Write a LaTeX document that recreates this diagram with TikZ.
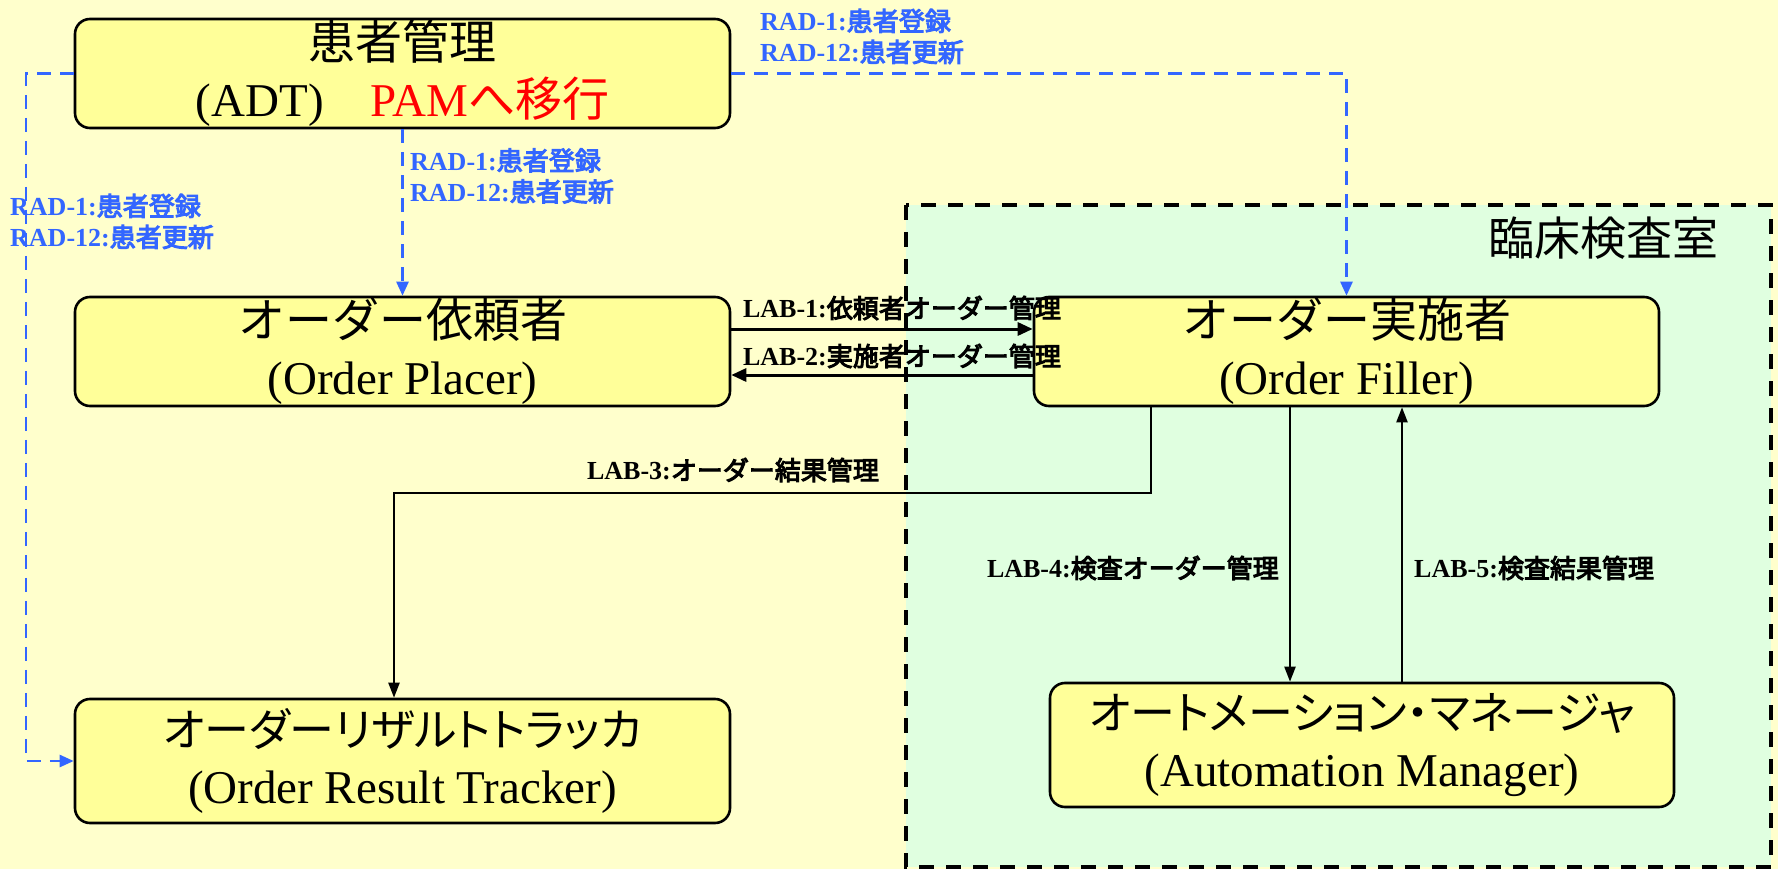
\documentclass[tikz,border=0pt]{standalone}
\usepackage{fontspec}
\setmainfont{Liberation Serif}
\newfontfamily\jp{Noto Sans CJK JP}
\newfontfamily\jpp{Noto Sans CJK JP}[RawFeature=+palt]
\newfontfamily\jpb{Noto Sans CJK JP}[FakeBold=4]
\usetikzlibrary{arrows.meta}
\definecolor{bg}{HTML}{FFFFCC}
\definecolor{boxfill}{HTML}{FFFF99}
\definecolor{labfill}{HTML}{E0FFE0}
\definecolor{radblue}{HTML}{3366FF}
\newcommand{\lbtext}[2]{\textbf{#1}{\jpb #2}}
\begin{document}
\begin{tikzpicture}[x=1pt,y=-1pt,
  box/.style={draw=black, line width=2.6pt, fill=boxfill, rounded corners=15pt,
    align=center, font=\fontsize{47}{57}\selectfont, inner sep=0pt},
  radline/.style={draw=radblue, line width=2.5pt, dash pattern=on 14pt off 9pt,
    -{Triangle[length=14pt,width=12pt]}},
  labarrow/.style={draw=black, line width=3pt, -{Triangle[length=15pt,width=13pt]}},
  labarrowthin/.style={draw=black, line width=2.2pt, -{Triangle[length=15pt,width=11pt]}},
  lbl/.style={inner sep=0pt, font=\fontsize{26}{31}\selectfont},
  radlbl/.style={lbl, text=radblue, align=left, anchor=west},
  region/.style={draw=black, line width=3.5pt, dash pattern=on 15pt off 12pt, fill=labfill}
]
\fill[bg] (0,0) rectangle (1778,869);
\useasboundingbox (0,0) rectangle (1778,869);

% lab region
\path[region] (906,205) rectangle (1771,867);
\node[inner sep=0pt, font=\jp\fontsize{46}{50}\selectfont] (labtitle) at (1603,238) {臨床検査室};

% actor boxes
\node[box, minimum width=655pt, minimum height=109pt] (adt) at (402.5,73.5)
  {{\jp 患者管理}\\(ADT)\quad{\color{red}PAM{\jp へ移行}}};
\node[box, minimum width=655pt, minimum height=109pt] (placer) at (402.5,351.5)
  {{\jp オーダー依頼者}\\(Order Placer)};
\node[box, minimum width=625pt, minimum height=109pt] (filler) at (1346.5,351.5)
  {{\jp オーダー実施者}\\(Order Filler)};
\node[box, minimum width=655pt, minimum height=124pt] (tracker) at (402.5,761)
  {{\jpp\fontsize{45}{57}\selectfont オーダーリザルトトラッカ}\\(Order Result Tracker)};
\node[box, minimum width=624pt, minimum height=124pt] (automgr) at (1362,745)
  {{\jpp\fontsize{45}{57}\selectfont オートメーション・マネージャ}\\(Automation Manager)};

% RAD connectors
\draw[radline] (adt.west) -| (26,400) |- (tracker.west);
\draw[radline] (adt.east) -| (filler.north);
\draw[radline] (adt.south) -- (placer.north);

% LAB connectors
\draw[labarrow] (placer.east |- 0,329) -- (filler.west |- 0,329);
\draw[labarrow] (filler.west |- 0,375) -- (placer.east |- 0,375);
\draw[labarrowthin] (filler.south -| 1151,0) -- (1151,493) -- (394,493) -- (tracker.north -| 394,0);
\draw[labarrowthin] (filler.south -| 1290,0) -- (automgr.north -| 1290,0);
\draw[labarrowthin] (automgr.north -| 1402,0) -- (filler.south -| 1402,0);

% labels
\node[radlbl] (rad1) at (760,36.5) {\lbtext{RAD-1:}{患者登録}\\\lbtext{RAD-12:}{患者更新}};
\node[radlbl] (rad2) at (410,176) {\lbtext{RAD-1:}{患者登録}\\\lbtext{RAD-12:}{患者更新}};
\node[radlbl] (rad3) at (10,221.5) {\lbtext{RAD-1:}{患者登録}\\\lbtext{RAD-12:}{患者更新}};

\node[lbl] (lab1) at (902,308) {\lbtext{LAB-1:}{依頼者オーダー管理}};
\node[lbl] (lab2) at (902,356) {\lbtext{LAB-2:}{実施者オーダー管理}};
\node[lbl] (lab3) at (733,470) {\lbtext{LAB-3:}{オーダー結果管理}};
\node[lbl, anchor=east] (lab4) at (1279,568) {\lbtext{LAB-4:}{検査オーダー管理}};
\node[lbl, anchor=west] (lab5) at (1414,568) {\lbtext{LAB-5:}{検査結果管理}};
\end{tikzpicture}
\end{document}
